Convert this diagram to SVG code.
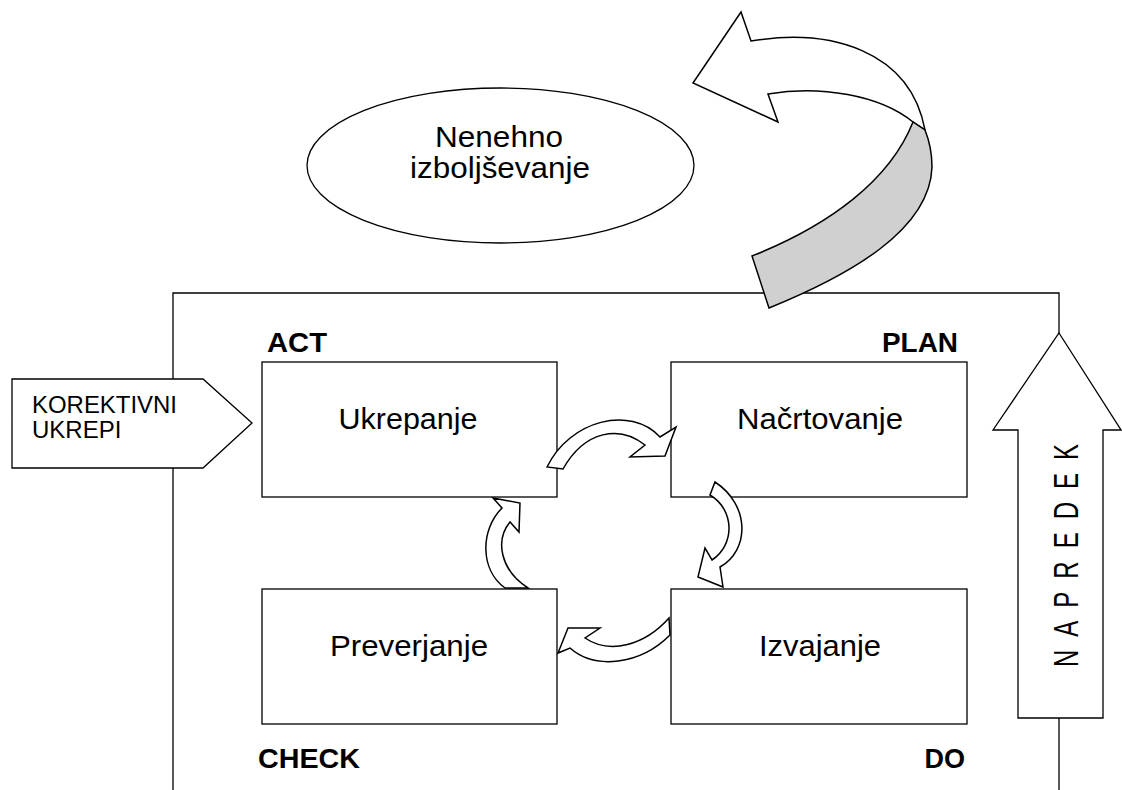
<svg xmlns="http://www.w3.org/2000/svg" width="1122" height="790" viewBox="0 0 1122 790">
<style>
.s{fill:#fff;stroke:#000;stroke-width:1.3}
.f{fill:#fff;stroke:#000;stroke-width:1.5;stroke-linejoin:miter}
.t{font-family:"Liberation Sans",Arial,sans-serif;font-size:29px;fill:#000}
.b{font-family:"Liberation Sans",Arial,sans-serif;font-size:27px;font-weight:bold;fill:#000}
.k{font-family:"Liberation Sans",Arial,sans-serif;font-size:24px;fill:#000}
</style>
<rect width="1122" height="790" fill="#fff"/>
<g id="frame">
<path d="M173,790 V293 H1059 V790" fill="none" stroke="#000" stroke-width="1.3"/>
</g>
<g id="improvement-arrow">
<path class="f" d="M751,41 C830,28 910,50 925,130 L913,122 C880,95 820,85 768,94 L778,122 L693,83 L741,12 Z"/>
<path d="M913,122 C890,180 830,225 752,256 L769,308 C850,275 930,230 932,167 C932,152 929,140 925,130 Z" fill="#d0d0d0" stroke="#000" stroke-width="1.5"/>
</g>
<g id="ellipse">
<ellipse class="s" cx="500.5" cy="165.5" rx="193.5" ry="77.5"/>
<text class="t" x="499" y="147" text-anchor="middle" textLength="128" lengthAdjust="spacingAndGlyphs">Nenehno</text>
<text class="t" x="500" y="178" text-anchor="middle" textLength="180" lengthAdjust="spacingAndGlyphs">izboljševanje</text>
</g>
<g id="ukrepanje">
<rect class="s" x="262" y="362" width="295" height="135"/>
<text class="t" x="408" y="429" text-anchor="middle" textLength="139" lengthAdjust="spacingAndGlyphs">Ukrepanje</text>
</g>
<g id="nacrtovanje">
<rect class="s" x="671" y="362" width="296" height="135"/>
<text class="t" x="820" y="429" text-anchor="middle" textLength="166" lengthAdjust="spacingAndGlyphs">Načrtovanje</text>
</g>
<g id="preverjanje">
<rect class="s" x="262" y="589" width="295" height="135"/>
<text class="t" x="409" y="656" text-anchor="middle" textLength="158" lengthAdjust="spacingAndGlyphs">Preverjanje</text>
</g>
<g id="izvajanje">
<rect class="s" x="671" y="589" width="296" height="135"/>
<text class="t" x="820" y="656" text-anchor="middle" textLength="122" lengthAdjust="spacingAndGlyphs">Izvajanje</text>
</g>
<g id="labels">
<text class="b" x="267" y="352" textLength="60" lengthAdjust="spacingAndGlyphs">ACT</text>
<text class="b" x="958" y="352" text-anchor="end" textLength="76" lengthAdjust="spacingAndGlyphs">PLAN</text>
<text class="b" x="258" y="768" textLength="102" lengthAdjust="spacingAndGlyphs">CHECK</text>
<text class="b" x="965" y="768" text-anchor="end">DO</text>
</g>
<g id="connectors">
<path class="f" d="M547,467 C570,420 630,405 660,437 L676,427 L665,456 L630,457 L645,445 C620,425 585,430 563,469 Z"/>
<path class="f" d="M715,482 C750,505 750,550 720,567 L723,587 L698,577 L705,548 L712,560 C735,545 735,510 710,495 Z"/>
<path class="f" d="M670,635 C640,665 595,670 570,648 L558,653 L568,628 L600,628 L585,638 C610,655 645,645 669,618 Z"/>
<path class="f" d="M505,588 C480,570 480,530 502,508 L493,498 L520,503 L519,532 L510,522 C495,540 500,570 528,588 Z"/>
</g>
<g id="korektivni">
<path class="s" d="M12,379 H203 L252,423 L203,468 H12 Z"/>
<text class="k" x="32" y="413" textLength="145" lengthAdjust="spacingAndGlyphs">KOREKTIVNI</text>
<text class="k" x="32" y="438">UKREPI</text>
</g>
<g id="napredek">
<path class="s" d="M1059,333 L1121,430 H1103 V718 H1018 V430 H993 Z"/>
<text class="k" transform="translate(1078,667) rotate(-90) scale(1,1.45)" x="0" y="0" font-size="25" letter-spacing="13">NAPREDEK</text>
</g>
</svg>
